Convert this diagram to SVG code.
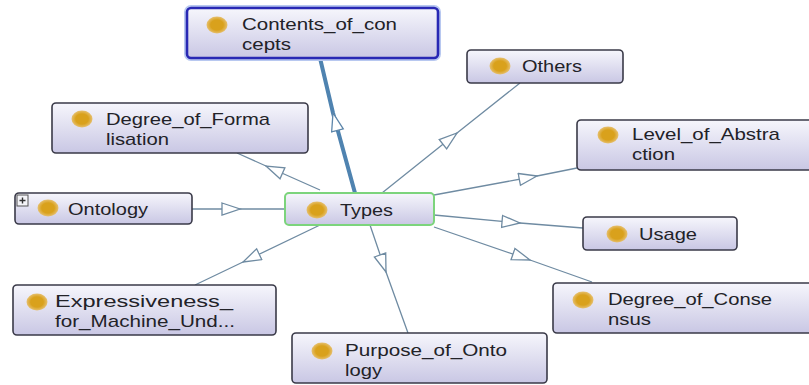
<svg xmlns="http://www.w3.org/2000/svg" width="809" height="385" viewBox="0 0 809 385">
<defs>
<linearGradient id="g" x1="0" y1="0" x2="0" y2="1">
<stop offset="0" stop-color="#f6f6fc"/>
<stop offset="1" stop-color="#c9c7e4"/>
</linearGradient>
<radialGradient id="dot" cx="0.5" cy="0.5" r="0.5">
<stop offset="0.6" stop-color="#d9a11c"/>
<stop offset="1" stop-color="#e6c070"/>
</radialGradient>
<marker id="ah" markerUnits="userSpaceOnUse" markerWidth="22" markerHeight="16" refX="19" refY="7" orient="auto">
<path d="M1,1 L19,7 L1,13 Z" fill="#ffffff" stroke="#6f8ba2" stroke-width="1.3"/>
</marker>
<marker id="ahb" markerUnits="userSpaceOnUse" markerWidth="22" markerHeight="16" refX="19" refY="7" orient="auto">
<path d="M1,1 L19,7 L1,13 Z" fill="#ffffff" stroke="#5d86aa" stroke-width="1.3"/>
</marker>
</defs>
<style>
.box{fill:url(#g);stroke:#3a3a48;stroke-width:1.6}
.sel{fill:url(#g);stroke:#2828b4;stroke-width:2.6}
.cur{fill:url(#g);stroke:#7cd47c;stroke-width:2}
.dot{fill:url(#dot)}
.t{font-family:"Liberation Sans",Arial,sans-serif;font-size:17px;fill:#222228}
.e{fill:none;stroke:#6f8ba2;stroke-width:1.3;marker-mid:url(#ah)}
.eb{fill:none;stroke:#4f83b0;stroke-width:4;marker-mid:url(#ahb)}
</style>
<rect width="809" height="385" fill="#ffffff"/>
<g id="connectors">
<polyline class="eb" points="355,193 333,113 320,58"/>
<polyline class="e" points="192,209 240,209 285,209"/>
<polyline class="e" points="320,190 266,166 237,153"/>
<polyline class="e" points="320,225 243,262 195,285"/>
<polyline class="e" points="370,225 386,272 408,333"/>
<polyline class="e" points="434,227 530,260 592,282"/>
<polyline class="e" points="434,215 520,223 583,228"/>
<polyline class="e" points="434,195 537,176 577,168"/>
<polyline class="e" points="382,193 457,133 520,83"/>
</g>
<g id="node-contents">
<rect x="185" y="6" width="255" height="54" rx="6" fill="none" stroke="#b8c8f0" stroke-width="2"/>
<rect class="sel" x="187" y="8" width="251" height="50" rx="4"/>
<ellipse class="dot" cx="217" cy="25" rx="10.5" ry="8.5"/>
<text class="t" x="242" y="30" textLength="155" lengthAdjust="spacingAndGlyphs">Contents_of_con</text>
<text class="t" x="242" y="50" textLength="49" lengthAdjust="spacingAndGlyphs">cepts</text>
</g>
<g id="node-formalisation">
<rect class="box" x="52" y="103" width="256" height="50" rx="4"/>
<ellipse class="dot" cx="82" cy="119" rx="10.5" ry="8.5"/>
<text class="t" x="106" y="125" textLength="164" lengthAdjust="spacingAndGlyphs">Degree_of_Forma</text>
<text class="t" x="106" y="145" textLength="63" lengthAdjust="spacingAndGlyphs">lisation</text>
</g>
<g id="node-ontology">
<rect class="box" x="15" y="193" width="177" height="31" rx="4"/>
<rect x="17" y="195" width="11" height="11" fill="#f4f4f8" stroke="#555" stroke-width="1"/>
<path d="M19.5,200.5 H25.5 M22.5,197.5 V203.5" stroke="#333" stroke-width="1.4"/>
<ellipse class="dot" cx="48" cy="208" rx="10.5" ry="8.5"/>
<text class="t" x="68" y="215" textLength="80" lengthAdjust="spacingAndGlyphs">Ontology</text>
</g>
<g id="node-types">
<rect class="cur" x="285" y="193" width="149" height="32" rx="4"/>
<ellipse class="dot" cx="317" cy="210" rx="10.5" ry="8.5"/>
<text class="t" x="340" y="216" textLength="53" lengthAdjust="spacingAndGlyphs">Types</text>
</g>
<g id="node-expressiveness">
<rect class="box" x="13" y="285" width="263" height="50" rx="4"/>
<ellipse class="dot" cx="37" cy="302" rx="10.5" ry="8.5"/>
<text class="t" x="55" y="307" textLength="178" lengthAdjust="spacingAndGlyphs">Expressiveness_</text>
<text class="t" x="55" y="327" textLength="180" lengthAdjust="spacingAndGlyphs">for_Machine_Und...</text>
</g>
<g id="node-purpose">
<rect class="box" x="292" y="333" width="255" height="50" rx="4"/>
<ellipse class="dot" cx="322" cy="351" rx="10.5" ry="8.5"/>
<text class="t" x="345" y="356" textLength="162" lengthAdjust="spacingAndGlyphs">Purpose_of_Onto</text>
<text class="t" x="345" y="376" textLength="37" lengthAdjust="spacingAndGlyphs">logy</text>
</g>
<g id="node-consensus">
<rect class="box" x="553" y="283" width="262" height="50" rx="4"/>
<ellipse class="dot" cx="583" cy="300" rx="10.5" ry="8.5"/>
<text class="t" x="608" y="305" textLength="164" lengthAdjust="spacingAndGlyphs">Degree_of_Conse</text>
<text class="t" x="608" y="325" textLength="43" lengthAdjust="spacingAndGlyphs">nsus</text>
</g>
<g id="node-level">
<rect class="box" x="577" y="120" width="240" height="50" rx="4"/>
<ellipse class="dot" cx="608" cy="135" rx="10.5" ry="8.5"/>
<text class="t" x="632" y="140" textLength="148" lengthAdjust="spacingAndGlyphs">Level_of_Abstra</text>
<text class="t" x="632" y="160" textLength="43" lengthAdjust="spacingAndGlyphs">ction</text>
</g>
<g id="node-usage">
<rect class="box" x="583" y="217" width="154" height="33" rx="4"/>
<ellipse class="dot" cx="617" cy="234" rx="10.5" ry="8.5"/>
<text class="t" x="639" y="240" textLength="58" lengthAdjust="spacingAndGlyphs">Usage</text>
</g>
<g id="node-others">
<rect class="box" x="467" y="50" width="156" height="33" rx="4"/>
<ellipse class="dot" cx="500" cy="66" rx="10.5" ry="8.5"/>
<text class="t" x="522" y="72" textLength="60" lengthAdjust="spacingAndGlyphs">Others</text>
</g>
</svg>
